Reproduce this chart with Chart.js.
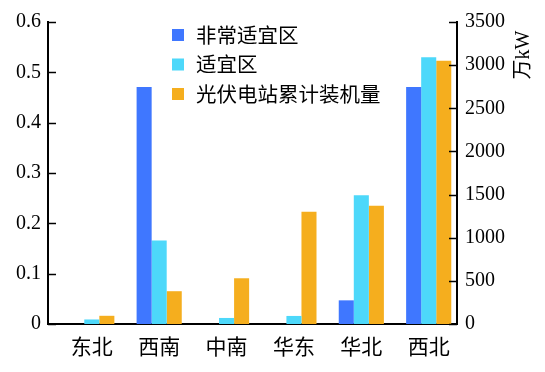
<!DOCTYPE html>
<html>
<head>
<meta charset="utf-8">
<script src="https://cdn.jsdelivr.net/npm/chart.js@4.4.0/dist/chart.umd.min.js"></script>
<style>
    html, body { margin: 0; padding: 0; background: #fff; }
    #wrap { width: 545px; height: 372px; }
</style>
</head>
<body>
<div id="wrap"><canvas id="chart"></canvas></div>
<script>
// Data
const regions = ['东北', '西南', '中南', '华东', '华北', '西北'];
const veryFit = [0, 0.471, 0, 0, 0.047, 0.471];
const fit = [0.009, 0.166, 0.012, 0.016, 0.256, 0.530];
const pvCapacity = [95, 380, 530, 1300, 1370, 3050]; // 万kW
const leftTicks = [0, 0.1, 0.2, 0.3, 0.4, 0.5, 0.6];
const rightTicks = [0, 500, 1000, 1500, 2000, 2500, 3000, 3500];
const seriesNames = ['非常适宜区', '适宜区', '光伏电站累计装机量'];
const rightTitle = '万kW';

const colors = ['#3f77ff', '#4dd8fa', '#f5ae1e'];
const serifFam = '"Liberation Serif", "Noto Sans CJK SC", serif';
const cjkFam = '"Noto Sans CJK SC", sans-serif';

Chart.defaults.font.family = serifFam;
Chart.defaults.font.size = 20;
Chart.defaults.color = '#000';

const toPoints = arr => arr.map((v, i) => ({ x: i, y: v }));

// inward ticks, legend and rotated right title
const extras = {
    id: 'extras',
    afterDraw(chart) {
        const ctx = chart.ctx;
        const yl = chart.scales.yLeft, yr = chart.scales.yRight;
        ctx.save();
        ctx.strokeStyle = '#000';
        ctx.lineWidth = 1.5;
        leftTicks.forEach(v => {
            const y = Math.round(yl.getPixelForValue(v)) + 0.5;
            ctx.beginPath();
            ctx.moveTo(yl.right, y);
            ctx.lineTo(yl.right + 8, y);
            ctx.stroke();
        });
        rightTicks.forEach(v => {
            const y = Math.round(yr.getPixelForValue(v)) + 0.5;
            ctx.beginPath();
            ctx.moveTo(yr.left, y);
            ctx.lineTo(yr.left - 8, y);
            ctx.stroke();
        });

        // legend
        ctx.textBaseline = 'middle';
        ctx.textAlign = 'left';
        ctx.font = '20.5px ' + cjkFam;
        seriesNames.forEach((name, i) => {
            const y = 35 + i * 29.5;
            ctx.fillStyle = colors[i];
            ctx.fillRect(172, y - 6, 12, 12);
            ctx.fillStyle = '#000';
            ctx.fillText(name, 196, y);
        });

        // right axis title, reading upward
        ctx.translate(524, 55);
        ctx.rotate(-Math.PI / 2);
        ctx.textAlign = 'center';
        ctx.font = '20px ' + serifFam;
        ctx.fillText(rightTitle, 0, 0);
        ctx.restore();
    }
};

new Chart(document.getElementById('chart'), {
    type: 'bar',
    data: {
        datasets: [
            { label: seriesNames[0], data: toPoints(veryFit), backgroundColor: colors[0], yAxisID: 'yLeft' },
            { label: seriesNames[1], data: toPoints(fit), backgroundColor: colors[1], yAxisID: 'yLeft' },
            { label: seriesNames[2], data: toPoints(pvCapacity), backgroundColor: colors[2], yAxisID: 'yRight' }
        ]
    },
    options: {
        responsive: true,
        maintainAspectRatio: false,
        animation: false,
        categoryPercentage: 0.67,
        barPercentage: 1,
        layout: { padding: { top: 22, left: 0, right: 0, bottom: 0 } },
        plugins: {
            legend: { display: false },
            tooltip: { enabled: false }
        },
        scales: {
            x: {
                type: 'linear',
                offset: false,
                min: -0.65,
                max: 5.42,
                grid: { display: false, drawTicks: false },
                border: { color: '#000', width: 2 },
                afterBuildTicks: axis => { axis.ticks = regions.map((r, i) => ({ value: i })); },
                afterFit: axis => { axis.height = 48; },
                ticks: {
                    padding: 9,
                    color: '#000',
                    font: { family: cjkFam, size: 21 },
                    autoSkip: false,
                    maxRotation: 0,
                    callback: v => regions[v] ?? ''
                }
            },
            yLeft: {
                position: 'left',
                min: 0,
                max: 0.6,
                grid: { display: false, drawTicks: false },
                border: { color: '#000', width: 2 },
                afterBuildTicks: axis => { axis.ticks = leftTicks.map(v => ({ value: v })); },
                afterFit: axis => { axis.width = 48; },
                ticks: { padding: 7, color: '#000', font: { family: serifFam, size: 20 }, callback: v => String(+v.toFixed(1)) }
            },
            yRight: {
                position: 'right',
                min: 0,
                max: 3500,
                grid: { display: false, drawTicks: false },
                border: { color: '#000', width: 2 },
                afterBuildTicks: axis => { axis.ticks = rightTicks.map(v => ({ value: v })); },
                afterFit: axis => { axis.width = 88; },
                ticks: { padding: 8, color: '#000', font: { family: serifFam, size: 20 }, callback: v => String(v) }
            }
        }
    },
    plugins: [extras]
});
</script>
</body>
</html>
